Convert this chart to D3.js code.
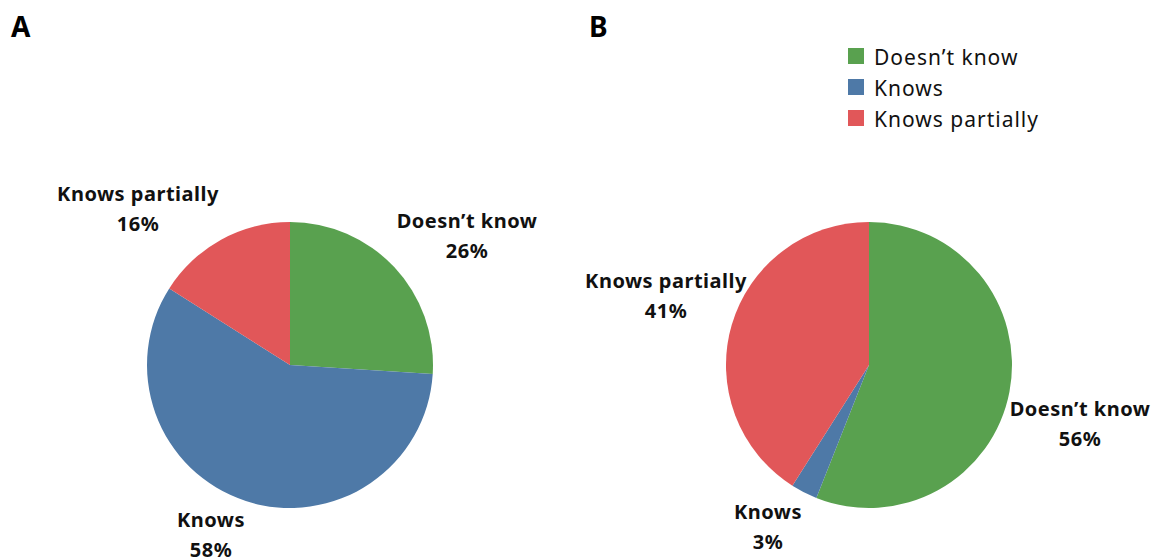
<!DOCTYPE html>
<html>
<head>
<meta charset="utf-8">
<script src="https://cdn.jsdelivr.net/npm/d3@7/dist/d3.min.js"></script>
<style>
  html, body { margin: 0; padding: 0; background: #fff; }
  svg { display: block; font-family: "Noto Sans", "Open Sans", sans-serif; }
</style>
</head>
<body>
<svg id="chart" width="1154" height="557"></svg>
<script>
// Answer categories, in drawing order (clockwise from 12 o'clock)
const categories = ["Doesn\u2019t know", "Knows", "Knows partially"];
// Share of respondents (%) per category
const valuesA = [26, 58, 16];
const valuesB = [56, 3, 41];
const panelLabels = ["A", "B"];
const colors = ["#59a14f", "#4e79a7", "#e15759"];

// Layout
const radius = 143;
const panels = [
  { values: valuesA, cx: 290, cy: 365, tagX: 11,
    // label anchor offsets from the pie centre, per category
    labelOffsets: [[177, -137], [-79, 162], [-152, -164]] },
  { values: valuesB, cx: 869, cy: 365, tagX: 589,
    labelOffsets: [[211, 51], [-101, 154], [-203, -77]] }
];

const svg = d3.select("#chart");
const color = d3.scaleOrdinal().domain(categories).range(colors);
const pie = d3.pie().sort(null).value(d => d.value);
const arc = d3.arc().innerRadius(0).outerRadius(radius);

panels.forEach((p, pi) => {
  svg.append("text")
    .attr("x", p.tagX).attr("y", 37)
    .attr("font-size", 28).attr("font-weight", 700)
    .attr("fill", "#000")
    .text(panelLabels[pi]);

  const data = categories.map((c, i) => ({ cat: c, value: p.values[i], i }));
  const arcs = pie(data);
  const g = svg.append("g").attr("transform", `translate(${p.cx},${p.cy})`);

  g.selectAll("path").data(arcs).join("path")
    .attr("d", arc)
    .attr("fill", d => color(d.data.cat));

  const lbl = g.selectAll("text.lbl").data(arcs).join("text")
    .attr("class", "lbl")
    .attr("text-anchor", "middle")
    .attr("font-size", 20).attr("font-weight", 700)
    .attr("letter-spacing", 0.5)
    .attr("fill", "#111")
    .attr("transform", d => `translate(${p.labelOffsets[d.data.i][0]},${p.labelOffsets[d.data.i][1]})`);
  lbl.append("tspan").attr("x", 0).attr("y", 0).text(d => d.data.cat);
  lbl.append("tspan").attr("x", 0).attr("y", 30).text(d => d.data.value + "%");
});

// Legend
const legend = svg.append("g").attr("transform", "translate(848,48)");
const rows = legend.selectAll("g").data(categories).join("g")
  .attr("transform", (d, i) => `translate(0,${i * 31})`);
rows.append("rect").attr("width", 16).attr("height", 16)
  .attr("fill", d => color(d));
rows.append("text").attr("x", 26).attr("y", 17)
  .attr("font-size", 21).attr("letter-spacing", 1).attr("fill", "#111")
  .text(d => d);
</script>
</body>
</html>
